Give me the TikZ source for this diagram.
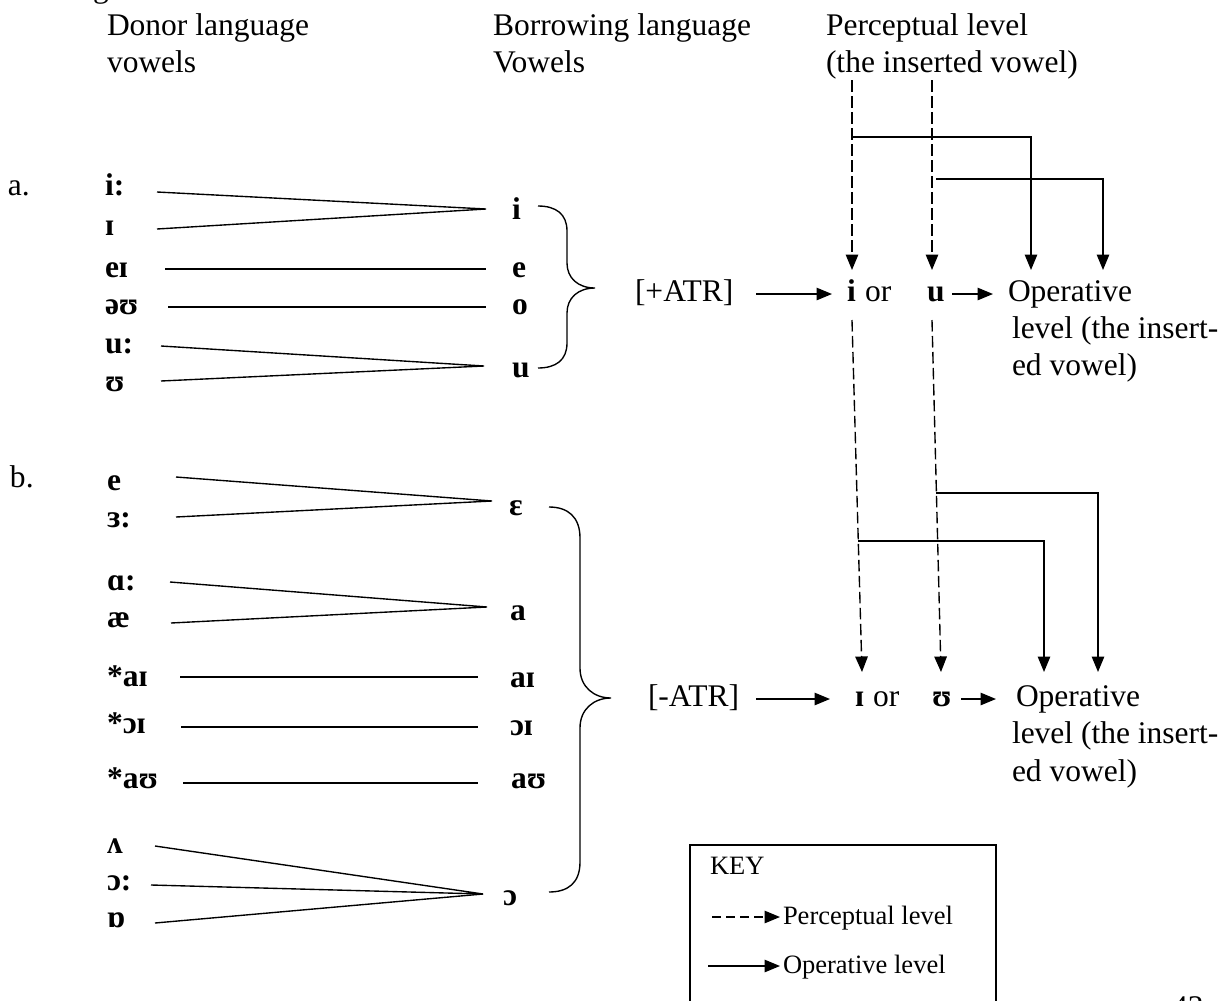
\documentclass[tikz,border=0pt]{standalone}
\usepackage{fontspec}
\setmainfont{Liberation Serif}
\usetikzlibrary{arrows.meta}
\begin{document}
\begin{tikzpicture}[x=0.4pt,y=-0.4pt,
  every node/.style={inner sep=0pt,outer sep=0pt,anchor=base west,font=\fontsize{12.6}{14.7}\selectfont},
  vw/.style={font=\fontsize{12.6}{14.7}\selectfont\bfseries},
  keytxt/.style={font=\fontsize{10.6}{12.7}\selectfont},
  ln/.style={line width=0.55pt},
  tip/.style={-{Triangle[length=6.2pt,width=5pt]}},
  perc/.style={ln,tip,dash pattern=on 4.6pt off 1.8pt},
  keyperc/.style={ln,tip,dash pattern=on 3.6pt off 2pt},
  oper/.style={ln,tip}]
\useasboundingbox (0,0) rectangle (1222,1001);
\clip (0,0) rectangle (1222,1001);

% cut-off page fragments
\node (gfrag) at (93,-3) {g};
\node (pnum) at (1172,1017) {43};

% headers
\node (hd1) at (107,35) {Donor language};
\node (hd2) at (107,72) {vowels};
\node (hb1) at (493,35) {Borrowing language};
\node (hb2) at (493,72) {Vowels};
\node (hp1) at (826,35) {Perceptual level};
\node (hp2) at (826,72) {(the inserted vowel)};

% ---------- part a ----------
\node (la) at (8,195) {a.};
\node[vw] (Li)  at (105,195) {i:};
\node[vw] (LI)  at (105,235) {ɪ};
\node[vw] (Lei) at (105,277) {eɪ};
\node[vw] (Lou) at (105,314) {əʊ};
\node[vw] (Lu)  at (105,353) {u:};
\node[vw] (LU)  at (105,391) {ʊ};
\node[vw] (Ri) at (512,219) {i};
\node[vw] (Re) at (512,277) {e};
\node[vw] (Ro) at (512,314) {o};
\node[vw] (Ru) at (512,377) {u};

\coordinate (a1) at (157,192);
\coordinate (a2) at (157,229);
\coordinate (ai) at (486,209);
\coordinate (a3) at (165,269);
\coordinate (a3e) at (486,269);
\coordinate (a4) at (168,307);
\coordinate (a4e) at (486,307);
\coordinate (a5) at (161,346);
\coordinate (a6) at (161,381);
\coordinate (au) at (484,366);
\draw[ln] (a1) -- (ai) -- (a2);
\draw[ln] (a3) -- (a3e);
\draw[ln] (a4) -- (a4e);
\draw[ln] (a5) -- (au) -- (a6);

% brace a
\draw[ln] (538,206) .. controls (556,206) and (567,214) .. (567,231) -- (567,263)
  .. controls (567,278) and (578,288) .. (595,288)
  .. controls (578,288) and (567,298) .. (567,313) -- (567,343)
  .. controls (567,360) and (556,368) .. (538,368);

\node (patr) at (635,301) {[+ATR]};
\node[vw] (Pi) at (847,301) {i};
\node (Por) at (865,301) {or};
\node[vw] (Pu) at (927,301) {u};
\node (Pop) at (1008,301) {Operative};
\node (Pl1) at (1012,338) {level (the insert-};
\node (Pl2) at (1012,375) {ed vowel)};

\coordinate (pa0) at (756,294);
\coordinate (pa1) at (832,294);
\draw[oper] (pa0) -- (pa1);
\coordinate (pb0) at (952,294);
\coordinate (pb1) at (993,294);
\draw[oper] (pb0) -- (pb1);

\coordinate (di0) at (852,80);
\coordinate (di1) at (852,270);
\coordinate (du0) at (932,80);
\coordinate (du1) at (932,270);
\draw[perc] (di0) -- (di1);
\draw[perc] (du0) -- (du1);
\coordinate (s1a) at (852,137);
\coordinate (s1b) at (1031,270);
\coordinate (s2a) at (936,179);
\coordinate (s2b) at (1103,270);
\draw[oper] (s1a) -| (s1b);
\draw[oper] (s2a) -| (s2b);

% ---------- part b ----------
\node (lb) at (10,487) {b.};
\node[vw] (Le)   at (107,490) {e};
\node[vw] (L3)   at (107,527) {ɜ:};
\node[vw] (La)   at (107,590) {ɑ:};
\node[vw] (Lae)  at (107,627) {æ};
\node[vw] (Lai)  at (107,686) {*aɪ};
\node[vw] (Loi)  at (107,733) {*ɔɪ};
\node[vw] (Lau)  at (107,788) {*aʊ};
\node[vw] (Lv)   at (107,853) {ʌ};
\node[vw] (Lo)   at (107,890) {ɔ:};
\node[vw] (Lob)  at (107,927) {ɒ};
\node[vw] (Reps) at (509,515) {ɛ};
\node[vw] (Ra)   at (510,620) {a};
\node[vw] (Rai)  at (510,687) {aɪ};
\node[vw] (Roi)  at (510,735) {ɔɪ};
\node[vw] (Rau)  at (511,788) {aʊ};
\node[vw] (Ro2)  at (503,905) {ɔ};

\coordinate (b1) at (176,477);
\coordinate (b2) at (176,517);
\coordinate (be) at (492,501);
\coordinate (b3) at (170,582);
\coordinate (b4) at (171,623);
\coordinate (ba) at (487,607);
\coordinate (b5) at (180,677);
\coordinate (b5e) at (478,677);
\coordinate (b6) at (181,727);
\coordinate (b6e) at (478,727);
\coordinate (b7) at (183,783);
\coordinate (b7e) at (478,783);
\coordinate (b8) at (155,846);
\coordinate (b9) at (151,885);
\coordinate (b10) at (155,923);
\coordinate (bo) at (483,894);
\draw[ln] (b1) -- (be) -- (b2);
\draw[ln] (b3) -- (ba) -- (b4);
\draw[ln] (b5) -- (b5e);
\draw[ln] (b6) -- (b6e);
\draw[ln] (b7) -- (b7e);
\draw[ln] (b8) -- (bo) -- (b9);
\draw[ln] (b10) -- (bo);

% brace b
\draw[ln] (549,507) .. controls (568,507) and (580,517) .. (580,538) -- (580,668)
  .. controls (580,687) and (594,698) .. (611,698)
  .. controls (594,698) and (580,709) .. (580,728) -- (580,862)
  .. controls (580,883) and (568,892) .. (549,892);

\node (natr) at (648,706) {[-ATR]};
\node[vw] (NI) at (855,706) {ɪ};
\node (Nor) at (873,706) {or};
\node[vw] (NU) at (932,706) {ʊ};
\node (Nop) at (1016,706) {Operative};
\node (Nl1) at (1012,743) {level (the insert-};
\node (Nl2) at (1012,781) {ed vowel)};

\coordinate (na0) at (756,699);
\coordinate (na1) at (830,699);
\draw[oper] (na0) -- (na1);
\coordinate (nb0) at (961,699);
\coordinate (nb1) at (996,699);
\draw[oper] (nb0) -- (nb1);

\coordinate (dI0) at (852,320);
\coordinate (dI1) at (862,672);
\coordinate (dU0) at (932,320);
\coordinate (dU1) at (941,672);
\draw[perc] (dI0) -- (dI1);
\draw[perc] (dU0) -- (dU1);
\coordinate (t1a) at (936,493);
\coordinate (t1b) at (1098,672);
\coordinate (t2a) at (858,541);
\coordinate (t2b) at (1044,672);
\draw[oper] (t1a) -| (t1b);
\draw[oper] (t2a) -| (t2b);

% ---------- key ----------
\node[draw,line width=0.55pt,anchor=north west,minimum width=122.4pt,minimum height=80pt] (keybox) at (690,845) {};
\node[keytxt] (keyt) at (710,874) {KEY};
\coordinate (k1a) at (712,917);
\coordinate (k1b) at (780,917);
\draw[keyperc] (k1a) -- (k1b);
\node[keytxt] (kp) at (783,924) {Perceptual level};
\coordinate (k2a) at (708,966);
\coordinate (k2b) at (780,966);
\draw[oper] (k2a) -- (k2b);
\node[keytxt] (ko) at (783,973) {Operative level};
\end{tikzpicture}
\end{document}
